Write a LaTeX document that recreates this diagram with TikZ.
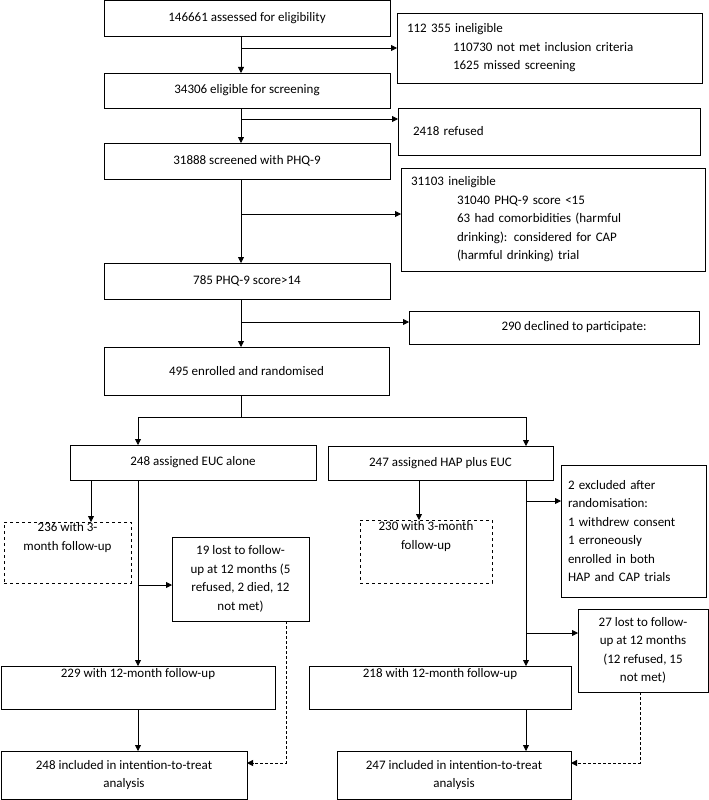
\documentclass[tikz,border=0pt]{standalone}
\usepackage{fontspec}
\setmainfont{Carlito}
\usetikzlibrary{arrows.meta, positioning}
\tikzset{
    box/.style={draw, line width=0.9pt, inner sep=0pt, outer sep=0pt, align=center, font=\fontsize{13}{18.5}\selectfont},
    dashbox/.style={box, dashed},
    arr/.style={draw, line width=0.8pt, -{Triangle[length=6pt, width=6pt]}},
    darr/.style={arr, densely dashed, line width=0.5pt}
}
\begin{document}
\begin{tikzpicture}[x=1pt, y=-1pt]
    \useasboundingbox (0,0) rectangle (709,800);

    % Main column
    \node[box, minimum width=286, minimum height=36] (assess) at (247,18) {146661 assessed for eligibility};
    \node[box, minimum width=286, minimum height=35] (elig) at (247,90.5) {34306 eligible for screening};
    \node[box, minimum width=286, minimum height=36] (screened) at (247,161) {31888 screened with PHQ-9};
    \node[box, minimum width=286, minimum height=36] (phq) at (247,281) {785 PHQ-9 score>14};
    \node[box, minimum width=285, minimum height=48] (enrolled) at (246.5,371) {495 enrolled and randomised};

    % Exclusions on the right
    \node[box, minimum width=305, minimum height=70, align=left, text width=285] (inel) at (549.5,48)
        {112 355 ineligible\\\hspace*{46pt}110730 not met inclusion criteria\\\hspace*{46pt}1625 missed screening};
    \node[box, minimum width=302, minimum height=47, align=left, text width=272] (refused) at (549,131.5) {2418 refused};
    \node[box, minimum width=304, minimum height=103, align=left, text width=284] (inel2) at (553,219.5)
        {31103 ineligible\\\hspace*{46pt}31040 PHQ-9 score <15\\\hspace*{46pt}63 had comorbidities (harmful\\\hspace*{46pt}drinking): considered for CAP\\\hspace*{46pt}(harmful drinking) trial};
    \node[box, minimum width=290, minimum height=33] (declined) at (554,327.5) {\hspace*{40pt}290 declined to participate:};

    % Arms
    \node[box, minimum width=246, minimum height=35] (euc) at (193,462.5) {248 assigned EUC alone};
    \node[box, minimum width=225, minimum height=34] (hap) at (440.5,463) {247 assigned HAP plus EUC};
    \node[dashbox, minimum width=127, minimum height=61] (m3a) at (67.5,552.5) {236 with 3-\\month follow-up\\[14pt]};
    \node[box, minimum width=137, minimum height=84] (lost1) at (240.5,579) {19 lost to follow-\\up at 12 months (5\\refused, 2 died, 12\\not met)};
    \node[dashbox, minimum width=132, minimum height=63] (m3b) at (426,551.5) {230 with 3-month\\follow-up\\[14pt]};
    \node[box, minimum width=145, minimum height=132, align=left, text width=131] (excl) at (633.5,531)
        {2 excluded after\\randomisation:\\1 withdrew consent\\1 erroneously\\enrolled in both\\HAP and CAP trials};
    \node[box, minimum width=274, minimum height=43] (m12a) at (138,687.5) {229 with 12-month follow-up\\[10pt]};
    \node[box, minimum width=262, minimum height=43] (m12b) at (440,687.5) {218 with 12-month follow-up\\[10pt]};
    \node[box, minimum width=130, minimum height=83] (lost2) at (643,650.5) {27 lost to follow-\\up at 12 months\\(12 refused, 15\\not met)};
    \node[box, minimum width=246, minimum height=48] (itta) at (124,775) {248 included in intention-to-treat\\analysis};
    \node[box, minimum width=234, minimum height=48] (ittb) at (454,775) {247 included in intention-to-treat\\analysis};

    % Helper coordinates
    \coordinate (t) at (241,0);
    \coordinate (split) at (241,417);
    \coordinate (la) at (138,0);
    \coordinate (lb) at (91,0);
    \coordinate (ra) at (526,0);
    \coordinate (rb) at (419,0);

    % Trunk
    \draw[arr] (assess.south -| t) -- (elig.north -| t);
    \draw[arr] (elig.south -| t) -- (screened.north -| t);
    \draw[arr] (screened.south -| t) -- (phq.north -| t);
    \draw[arr] (phq.south -| t) -- (enrolled.north -| t);
    \draw[arr] (241,48) -- (inel.west |- 0,48);
    \draw[arr] (241,119) -- (refused.west |- 0,119);
    \draw[arr] (241,214) -- (inel2.west |- 0,214);
    \draw[arr] (241,322) -- (declined.west |- 0,322);

    % Randomisation split
    \draw[line width=0.8pt] (enrolled.south -| t) -- (split);
    \draw[arr] (split) -| (euc.north -| la);
    \draw[arr] (split) -| (hap.north -| ra);

    % EUC arm
    \draw[arr] (euc.south -| lb) -- (m3a.north -| lb);
    \draw[arr] (euc.south -| la) -- (m12a.north -| la);
    \draw[arr] (138,585) -- (lost1.west |- 0,585);
    \draw[arr] (m12a.south -| la) -- (itta.north -| la);
    \draw[darr] (lost1.south -| 286,0) -- (286,763) -- (itta.east |- 0,763);

    % HAP arm
    \draw[arr] (hap.south -| rb) -- (m3b.north -| rb);
    \draw[arr] (hap.south -| ra) -- (m12b.north -| ra);
    \draw[arr] (526,501) -- (excl.west |- 0,501);
    \draw[arr] (526,633) -- (lost2.west |- 0,633);
    \draw[arr] (m12b.south -| ra) -- (ittb.north -| ra);
    \draw[darr] (lost2.south -| 640,0) -- (640,763) -- (ittb.east |- 0,763);
\end{tikzpicture}
\end{document}
